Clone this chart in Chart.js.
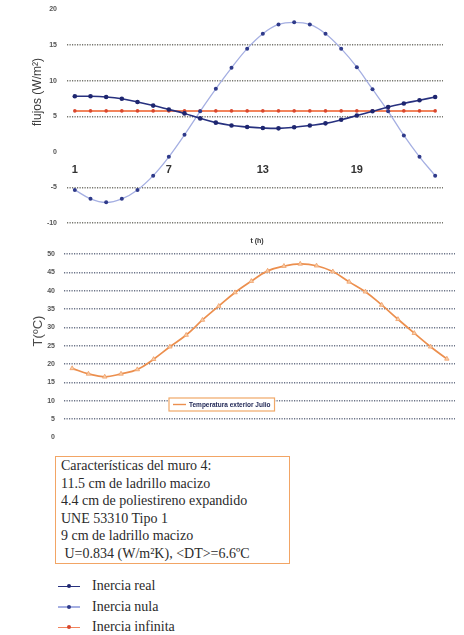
<!DOCTYPE html>
<html>
<head>
<meta charset="utf-8">
<script src="https://cdn.jsdelivr.net/npm/chart.js@4.4.1/dist/chart.umd.min.js"></script>
<style>
  body { margin: 0; width: 464px; height: 635px; background: #fff; position: relative; overflow: hidden; font-family: 'Liberation Sans', Arial, sans-serif; }
  canvas { position: absolute; left: 0; }
  #fluxChart { top: 0; }
  #tempChart { top: 240px; }
  .axis-title { position: absolute; transform: translate(-50%, -50%) rotate(-90deg); white-space: nowrap; }
  #fluxTitle { left: 37px; top: 92px; font-family: 'Liberation Sans Narrow', 'Liberation Sans', sans-serif; font-size: 12px; color: #3a3a3a; }
  #tempTitle { left: 37px; top: 331px; font-size: 13px; color: #4a4a4a; }
  #timeTitle { position: absolute; left: 257px; top: 240px; transform: translate(-50%, -50%); font-size: 7px; font-weight: bold; color: #333; }
  #wallBox { position: absolute; left: 55px; top: 456px; width: 228px; height: 106px; border: 1.5px solid #f2a565; padding: 0 0 0 5px;
             font-family: 'Liberation Serif', 'DejaVu Serif', serif; font-size: 14px; line-height: 17.6px; color: #2b2b2b; }
  #fluxLegend { position: absolute; left: 58px; top: 576px; font-family: 'Liberation Serif', 'DejaVu Serif', serif; font-size: 14px; color: #2b2b2b; }
  .leg-item { height: 20.5px; display: flex; align-items: center; }
  .leg-mark { position: relative; width: 22px; height: 1.5px; margin-right: 12px; }
  .leg-mark span { position: absolute; left: 9px; top: -1.5px; width: 4px; height: 4px; border-radius: 50%; }
</style>
</head>
<body>
<canvas id="fluxChart" width="464" height="235"></canvas>
<canvas id="tempChart" width="464" height="210"></canvas>
<div class="axis-title" id="fluxTitle">flujos (W/m²)</div>
<div class="axis-title" id="tempTitle">T(ºC)</div>
<div id="timeTitle">t (h)</div>
<div id="wallBox">
  Características del muro 4:<br>
  11.5 cm de ladrillo macizo<br>
  4.4 cm de poliestireno expandido<br>
  UNE 53310 Tipo 1<br>
  9 cm de ladrillo macizo<br>
  &nbsp;U=0.834 (W/m²K), &lt;DT&gt;=6.6ºC
</div>
<div id="fluxLegend"></div>
<script>
// Hours of the day
const hours = ['1', '2', '3', '4', '5', '6', '7', '8', '9', '10', '11', '12',
               '13', '14', '15', '16', '17', '18', '19', '20', '21', '22', '23', '24'];
const labelledHours = ['1', '7', '13', '19'];

// Heat flux through the wall (W/m2)
const realInertia = [7.8, 7.8, 7.7, 7.45, 7.0, 6.5, 5.95, 5.4, 4.7, 4.1, 3.7, 3.5,
                     3.35, 3.3, 3.45, 3.7, 4.0, 4.5, 5.1, 5.7, 6.3, 6.8, 7.25, 7.7];
const nullInertia = [-5.35, -6.6, -7.1, -6.6, -5.35, -3.35, -0.7, 2.4, 5.7, 8.85, 11.8, 14.5,
                     16.6, 17.9, 18.2, 17.9, 16.6, 14.5, 11.9, 8.8, 5.7, 2.3, -0.7, -3.35];
const infiniteInertia = [5.75, 5.75, 5.75, 5.75, 5.75, 5.75, 5.75, 5.75, 5.75, 5.75, 5.75, 5.75,
                         5.75, 5.75, 5.75, 5.75, 5.75, 5.75, 5.75, 5.75, 5.75, 5.75, 5.75, 5.75];

// Outdoor temperature, July (ºC)
const julyTemp = [18.8, 17.3, 16.5, 17.3, 18.5, 21.3, 24.7, 27.9, 32.0, 35.8, 39.5, 42.6,
                  45.4, 46.7, 47.3, 46.8, 45.2, 42.4, 39.7, 36.1, 32.2, 28.4, 24.7, 21.4];

const fluxRange = [-10, 20];
const tempRange = [0, 50];

const tickFont = { family: 'Liberation Sans', size: 7, weight: 'bold' };

// Top chart: flux for the three inertia cases
const fluxChart = new Chart(document.getElementById('fluxChart'), {
    type: 'line',
    data: {
        labels: hours,
        datasets: [{
            label: 'Inercia real',
            data: realInertia,
            borderColor: '#27317f',
            backgroundColor: '#1e2670',
            borderWidth: 1.6,
            pointRadius: 2.3,
            pointBorderWidth: 0,
            tension: 0.4
        }, {
            label: 'Inercia nula',
            data: nullInertia,
            borderColor: '#a5afe2',
            backgroundColor: '#2f3a8a',
            borderWidth: 1.3,
            pointRadius: 2,
            pointBorderWidth: 0,
            tension: 0.4
        }, {
            label: 'Inercia infinita',
            data: infiniteInertia,
            borderColor: '#f2845c',
            backgroundColor: '#d8472e',
            borderWidth: 2,
            pointRadius: 1.8,
            pointBorderWidth: 0,
            tension: 0
        }]
    },
    options: {
        responsive: false,
        animation: false,
        layout: { padding: { left: 0, right: 21, top: 9.5, bottom: 12 } },
        plugins: { legend: { display: false }, tooltip: { enabled: false } },
        scales: {
            x: {
                position: { y: 0 },
                offset: true,
                grid: { display: false, drawTicks: false },
                border: { display: false },
                ticks: {
                    autoSkip: false,
                    maxRotation: 0,
                    padding: 12,
                    color: '#333',
                    font: { family: 'Liberation Sans', size: 11, weight: 'bold' },
                    callback: function (value) {
                        const h = this.getLabelForValue(value);
                        return labelledHours.includes(h) ? h : '';
                    }
                }
            },
            y: {
                min: fluxRange[0],
                max: fluxRange[1],
                afterFit: (scale) => { scale.width = 67; },
                grid: {
                    tickLength: 10,
                    tickColor: 'rgba(0,0,0,0)',
                    lineWidth: 1.5,
                    color: (c) => (c.tick.value === 0 || c.tick.value === 20) ? 'rgba(0,0,0,0)' : '#76766e'
                },
                border: { display: false, dash: [1.2, 1.3] },
                ticks: { stepSize: 5, padding: 0, color: '#555', font: tickFont }
            }
        }
    }
});

// Boxed legend drawn inside the temperature plot
const boxLegend = {
    id: 'boxLegend',
    afterDraw(chart, args, opts) {
        const { ctx } = chart;
        const ds = chart.data.datasets[0];
        ctx.save();
        ctx.font = 'bold 6.5px "Liberation Sans", Arial, sans-serif';
        const textW = ctx.measureText(ds.label).width;
        const w = textW + 24, h = 13;
        ctx.fillStyle = '#fff';
        ctx.fillRect(opts.x, opts.y, w, h);
        ctx.strokeStyle = '#f0a868';
        ctx.lineWidth = 1.2;
        ctx.strokeRect(opts.x, opts.y, w, h);
        ctx.strokeStyle = ds.borderColor;
        ctx.lineWidth = 1.4;
        ctx.beginPath();
        ctx.moveTo(opts.x + 4, opts.y + h / 2);
        ctx.lineTo(opts.x + 17, opts.y + h / 2);
        ctx.stroke();
        ctx.fillStyle = '#1c2352';
        ctx.textBaseline = 'middle';
        ctx.fillText(ds.label, opts.x + 20, opts.y + h / 2 + 0.5);
        ctx.restore();
    }
};

// Bottom chart: outdoor temperature
const tempChart = new Chart(document.getElementById('tempChart'), {
    type: 'line',
    data: {
        labels: hours,
        datasets: [{
            label: 'Temperatura exterior Julio',
            data: julyTemp,
            borderColor: '#ec8f4e',
            backgroundColor: '#f8cfa8',
            pointBorderColor: '#f0a06a',
            borderWidth: 1.7,
            pointStyle: 'triangle',
            pointRadius: 2.6,
            pointBorderWidth: 0.8,
            tension: 0.4
        }]
    },
    options: {
        responsive: false,
        animation: false,
        layout: { padding: { left: 0, right: 9, top: 14, bottom: 12.7 } },
        plugins: {
            legend: { display: false },
            tooltip: { enabled: false },
            boxLegend: { x: 169, y: 158 }
        },
        scales: {
            x: { display: false, offset: true },
            y: {
                min: tempRange[0],
                max: tempRange[1],
                afterFit: (scale) => { scale.width = 64; },
                grid: {
                    tickLength: 9,
                    tickColor: 'rgba(0,0,0,0)',
                    lineWidth: 1.5,
                    color: (c) => c.tick.value === 0 ? 'rgba(0,0,0,0)' : '#6c7488'
                },
                border: { display: false, dash: [1.2, 1.3] },
                ticks: { stepSize: 5, padding: 0, color: '#555', font: tickFont }
            }
        }
    },
    plugins: [boxLegend]
});

// Legend for the flux chart, built from its datasets
const legendEl = document.getElementById('fluxLegend');
fluxChart.data.datasets.forEach((ds) => {
    const item = document.createElement('div');
    item.className = 'leg-item';
    item.innerHTML = '<div class="leg-mark" style="background:' + ds.borderColor + '"><span style="background:' +
        ds.backgroundColor + '"></span></div><div>' + ds.label + '</div>';
    legendEl.appendChild(item);
});
</script>
</body>
</html>
